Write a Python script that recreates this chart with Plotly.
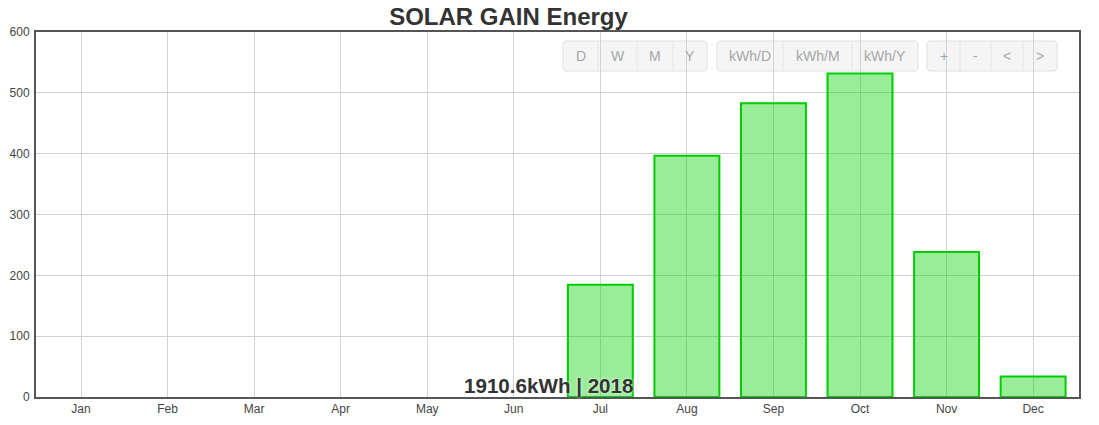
import plotly.graph_objects as go

# data
months = ['Jan', 'Feb', 'Mar', 'Apr', 'May', 'Jun',
          'Jul', 'Aug', 'Sep', 'Oct', 'Nov', 'Dec']
energy_kwh = [None, None, None, None, None, None,
              184.6, 396.6, 482.8, 531.7, 238.3, 33.8]
total_label = '1910.6kWh | 2018'
y_ticks = [0, 100, 200, 300, 400, 500, 600]

# toolbar buttons (decoration only)
btn_groups = [
    ['D', 'W', 'M', 'Y'],
    ['kWh/D', 'kWh/M', 'kWh/Y'],
    ['+', '-', '<', '>'],
]
btn_edges = [
    [563, 598, 637, 673, 707],
    [717, 783, 852, 918],
    [927, 960, 991, 1023, 1057],
]

# page is 1099x425, browser body margin is 8px
PAGE_W, PAGE_H = 1099, 425
OFF = 8
W, H = PAGE_W - OFF, PAGE_H - OFF
PL, PR, PT, PB = 36, 1079, 32, 397   # plot box in page pixels


def px(x):
    return (x - PL) / (PR - PL)


def py(y):
    return (PB - y) / (PB - PT)


def rounded_rect(x0, y0, x1, y1, r=4):
    pts = [
        ('M', x0 + r, y0), ('L', x1 - r, y0), ('Q', x1, y0, x1, y0 + r),
        ('L', x1, y1 - r), ('Q', x1, y1, x1 - r, y1), ('L', x0 + r, y1),
        ('Q', x0, y1, x0, y1 - r), ('L', x0, y0 + r), ('Q', x0, y0, x0 + r, y0),
    ]
    out = []
    for p in pts:
        cmd, coords = p[0], p[1:]
        pairs = []
        for i in range(0, len(coords), 2):
            pairs.append(f'{px(coords[i]):.5f},{py(coords[i + 1]):.5f}')
        out.append(cmd + ' ' + ' '.join(pairs))
    return ' '.join(out) + ' Z'


fig = go.Figure()
fig.add_trace(go.Bar(
    x=months,
    y=energy_kwh,
    marker=dict(color='rgba(0,210,0,0.4)',
                line=dict(color='#00cc00', width=2)),
    hovertemplate='%{x}: %{y:.1f} kWh<extra></extra>',
))

shapes = []
annotations = []
BY0, BY1 = 41, 71
for labels, edges in zip(btn_groups, btn_edges):
    shapes.append(dict(
        type='path', xref='paper', yref='paper', layer='below',
        path=rounded_rect(edges[0], BY0, edges[-1], BY1),
        fillcolor='rgba(243,243,243,0.85)',
        line=dict(color='#e0e0e0', width=1),
    ))
    for e in edges[1:-1]:
        shapes.append(dict(
            type='line', xref='paper', yref='paper', layer='below',
            x0=px(e), x1=px(e), y0=py(BY0 + 1), y1=py(BY1 - 1),
            line=dict(color='#e4e4e4', width=1),
        ))
    for i, lab in enumerate(labels):
        annotations.append(dict(
            text=lab, xref='paper', yref='paper',
            x=px((edges[i] + edges[i + 1]) / 2), y=py((BY0 + BY1) / 2),
            xanchor='center', yanchor='middle', showarrow=False,
            font=dict(family='Liberation Sans, Arial', size=14, color='#a6a6a6'),
        ))

annotations.append(dict(
    text=f'<b>{total_label}</b>', xref='paper', yref='paper',
    x=px(548), y=0, xanchor='center', yanchor='bottom', yshift=-2,
    showarrow=False,
    font=dict(family='Liberation Sans, Arial', size=20.6, color='#333333',
              shadow='0px 0px 3px #ffffff'),
))

axis_common = dict(
    showline=True, linecolor='#555555', linewidth=2, mirror=True,
    showgrid=True, gridcolor='#d2d2d2', gridwidth=1,
    layer='above traces', ticks='', zeroline=False, automargin=False,
    tickfont=dict(family='Liberation Sans, Arial', size=12, color='#444444'),
)

fig.update_layout(
    width=W, height=H,
    margin=dict(l=PL - OFF, r=PAGE_W - PR, t=PT - OFF, b=PAGE_H - PB, pad=0),
    paper_bgcolor='white', plot_bgcolor='white',
    title=dict(text='<b>SOLAR GAIN Energy</b>', xref='container', yref='container',
               x=(508.5 - OFF) / W, y=1, xanchor='center', yanchor='top',
               pad=dict(t=0, b=0),
               font=dict(family='Liberation Sans, Arial', size=24, color='#333333')),
    xaxis=dict(axis_common, type='category', range=[-0.52, 11.53]),
    yaxis=dict(axis_common, range=[0, 600], tickvals=y_ticks, ticklabelstandoff=2),
    bargap=0.25,
    showlegend=False,
    shapes=shapes,
    annotations=annotations,
)

fig.write_html('out.html')
